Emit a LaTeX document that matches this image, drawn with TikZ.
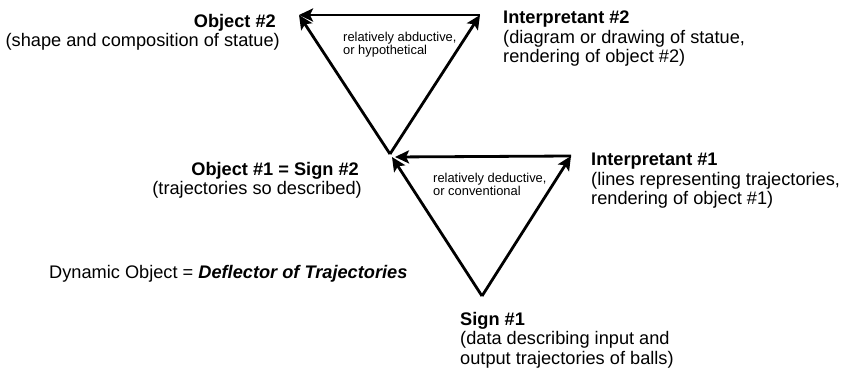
\documentclass[tikz,border=0pt]{standalone}
\usepackage{fontspec}
\setmainfont{Liberation Sans}
\usetikzlibrary{arrows.meta}
\begin{document}
\begin{tikzpicture}[x=1pt,y=-1pt,
  edge/.style={line width=2.8pt,-{Stealth[length=14pt,width=13pt,inset=3pt]}},
  big/.style={font=\fontsize{18.2}{19.5}\selectfont, inner sep=0pt, text=black},
  small/.style={font=\fontsize{12.9}{13.2}\selectfont, inner sep=0pt, align=left, anchor=north west, text=black}]
\useasboundingbox (0,0) rectangle (843,369);
% vertices
\coordinate (o2) at (299,15);
\coordinate (i2) at (480,15);
\coordinate (v) at (390,154);
\coordinate (o1) at (392,157);
\coordinate (i1) at (571,156);
\coordinate (s1) at (482,296);
% upper triangle
\draw[edge] (v) -- (o2);
\draw[edge] (v) -- (i2);
\draw[edge] (i2) -- (o2);
% lower triangle
\draw[edge] (s1) -- (o1);
\draw[edge] (s1) -- (i1);
\draw[edge,shorten >=3pt] (i1) -- (o1);
% labels
\node[big, anchor=north east, align=right] (obj2) at (280,13.7) {\textbf{Object \#2}\hspace*{4pt}\\(shape and composition of statue)};
\node[big, anchor=north west, align=left] (int2) at (503,11) {\textbf{Interpretant \#2}\\(diagram or drawing of statue,\\rendering of object \#2)};
\node[big, anchor=north east, align=right] (obj1) at (362,161.7) {\textbf{Object \#1 = Sign \#2}\hspace*{3pt}\\(trajectories so described)};
\node[big, anchor=north west, align=left] (int1) at (591,153) {\textbf{Interpretant \#1}\\(lines representing trajectories,\\rendering of object \#1)};
\node[big, anchor=north west, align=left] (sign1) at (460,311.7) {\textbf{Sign \#1}\\(data describing input and\\output trajectories of balls)};
\node[big, anchor=base west] (dyn) at (49,278) {Dynamic Object = \textbf{\textit{Deflector of Trajectories}}};
\node[small] (abd) at (343,31.7) {relatively abductive,\\or hypothetical};
\node[small] (ded) at (433,172.7) {relatively deductive,\\or conventional};
\end{tikzpicture}
\end{document}
